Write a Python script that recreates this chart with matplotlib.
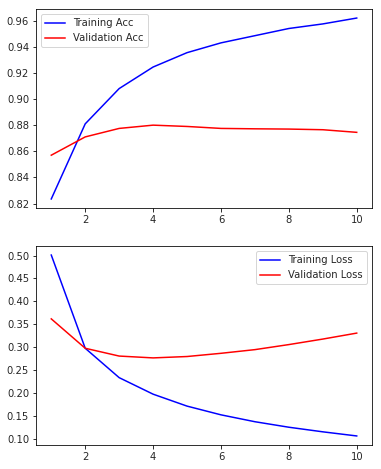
import matplotlib
matplotlib.use("Agg")
import matplotlib.pyplot as plt

epochs = [1, 2, 3, 4, 5, 6, 7, 8, 9, 10]
train_acc = [0.8235, 0.881, 0.908, 0.9245, 0.9355, 0.943, 0.9485, 0.954, 0.9575, 0.962]
val_acc = [0.857, 0.871, 0.8775, 0.880, 0.879, 0.8775, 0.8772, 0.877, 0.8765, 0.8745]
train_loss = [0.501, 0.298, 0.234, 0.198, 0.172, 0.153, 0.138, 0.126, 0.116, 0.107]
val_loss = [0.362, 0.298, 0.281, 0.277, 0.280, 0.287, 0.295, 0.306, 0.318, 0.331]

plt.rcParams['text.color'] = '#262626'
plt.rcParams['xtick.labelcolor'] = '#262626'
plt.rcParams['ytick.labelcolor'] = '#262626'

W, H = 381, 469
dpi = 72
fig = plt.figure(figsize=(W / dpi, H / dpi), dpi=dpi)

def pos(l, t, r, b):
    return [l / W, 1 - b / H, (r - l) / W, (b - t) / H]

ax1 = fig.add_axes(pos(36, 9, 372, 208))
ax1.plot(epochs, train_acc, 'b', label='Training Acc')
ax1.plot(epochs, val_acc, 'r', label='Validation Acc')
ax1.legend(loc='upper left')

ax2 = fig.add_axes(pos(36, 246, 372, 445))
ax2.plot(epochs, train_loss, 'b', label='Training Loss')
ax2.plot(epochs, val_loss, 'r', label='Validation Loss')
ax2.legend(loc='upper right')

fig.savefig('out.png', dpi=dpi)
